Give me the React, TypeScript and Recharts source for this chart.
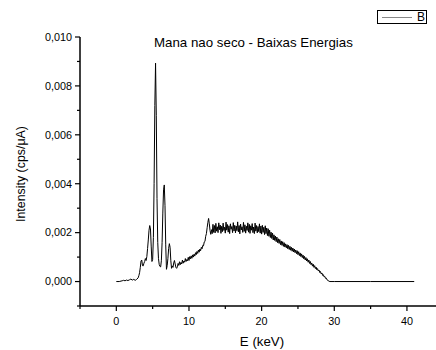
import { LineChart, Line, XAxis, YAxis } from "recharts";

// Spectrum: [energy keV, intensity in 1e-4 cps/uA]
const baseline: [number, number][] = [
  [0.0, 0], [0.4, 0], [0.8, 0.3], [1.0, 0.5], [1.2, 0.3], [1.4, 0.6], [1.6, 0.4],
  [1.8, 0.7], [2.0, 1.0], [2.2, 0.6], [2.4, 0.9], [2.6, 0.5], [2.8, 0.9],
];

const peaks: [number, number][] = [
  [3.0, 1.5], [3.1, 2.4], [3.2, 3.6], [3.3, 5.8], [3.4, 8.4], [3.5, 8.8], [3.6, 6.5],
  [3.7, 6.4], [3.8, 7.5], [3.9, 8.2], [4.0, 9.4], [4.1, 8.6], [4.2, 10.2], [4.3, 13.5],
  [4.4, 17.0], [4.5, 21.0], [4.6, 22.9], [4.7, 21.5], [4.8, 14.5], [4.9, 8.2], [5.0, 9.0],
  [5.1, 18.0], [5.2, 40.0], [5.3, 72.0], [5.4, 89.3], [5.5, 68.0], [5.6, 34.0], [5.7, 16.0],
  [5.8, 9.5], [5.9, 7.0], [6.0, 6.2], [6.1, 6.0], [6.2, 8.5], [6.3, 16.0], [6.4, 28.0],
  [6.5, 37.5], [6.6, 39.5], [6.7, 31.0], [6.8, 15.0], [6.9, 5.0], [7.0, 6.5], [7.1, 9.5],
  [7.2, 13.5], [7.3, 15.5], [7.4, 14.0], [7.5, 8.5], [7.6, 5.4], [7.7, 6.4], [7.8, 5.8],
  [7.9, 7.6], [8.0, 8.6], [8.1, 7.2], [8.2, 5.8], [8.3, 5.4],
];

const rise: [number, number][] = [
  [8.4, 6.0], [8.5, 7.4], [8.6, 6.6], [8.7, 8.1], [8.8, 6.9], [8.9, 7.8], [9.0, 7.2],
  [9.1, 8.8], [9.2, 7.5], [9.3, 8.4], [9.4, 7.9], [9.5, 9.4], [9.6, 8.2], [9.7, 9.0],
  [9.8, 8.5], [9.9, 9.9], [10.0, 8.6], [10.1, 10.2], [10.2, 9.3], [10.3, 10.5], [10.4, 9.5],
  [10.5, 10.9], [10.6, 10.0], [10.7, 11.2], [10.8, 10.4], [10.9, 11.8], [11.0, 11.0],
  [11.1, 12.3], [11.2, 11.5], [11.3, 12.9], [11.4, 12.0], [11.5, 13.3], [11.6, 12.6],
  [11.7, 14.0], [11.8, 13.4], [11.9, 14.8], [12.0, 14.6], [12.1, 16.2], [12.2, 16.4],
  [12.3, 18.5], [12.4, 19.6], [12.5, 22.0], [12.6, 24.2], [12.7, 25.8], [12.8, 23.6],
  [12.9, 20.8], [13.0, 19.3], [13.1, 21.2], [13.2, 19.6],
];

const plateau: [number, number][] = [
  [13.3, 23.4], [13.4, 20.1], [13.5, 22.9], [13.6, 19.9], [13.7, 23.8], [13.8, 20.6],
  [13.9, 22.4], [14.0, 20.0], [14.1, 24.0], [14.2, 21.2], [14.3, 23.1], [14.4, 19.7],
  [14.5, 22.6], [14.6, 20.4], [14.7, 23.9], [14.8, 20.9], [14.9, 22.2], [15.0, 19.8],
  [15.1, 24.3], [15.2, 21.0], [15.3, 23.3], [15.4, 20.2], [15.5, 22.8], [15.6, 19.6],
  [15.7, 23.6], [15.8, 21.4], [15.9, 22.5], [16.0, 20.0], [16.1, 24.1], [16.2, 20.7],
  [16.3, 23.0], [16.4, 19.9], [16.5, 22.7], [16.6, 20.8], [16.7, 24.4], [16.8, 20.3],
  [16.9, 22.9], [17.0, 19.5], [17.1, 23.5], [17.2, 21.1], [17.3, 22.4], [17.4, 20.1],
  [17.5, 24.2], [17.6, 20.5], [17.7, 23.2], [17.8, 19.8], [17.9, 22.6], [18.0, 20.9],
  [18.1, 24.0], [18.2, 20.2], [18.3, 23.4], [18.4, 19.7], [18.5, 22.8], [18.6, 21.0],
  [18.7, 23.7], [18.8, 20.0], [18.9, 22.3], [19.0, 19.6], [19.1, 23.9], [19.2, 20.6],
  [19.3, 22.9], [19.4, 19.9], [19.5, 22.5], [19.6, 20.4], [19.7, 23.6], [19.8, 19.8],
  [19.9, 22.7], [20.0, 19.4], [20.1, 23.0], [20.2, 20.1], [20.3, 22.2], [20.4, 19.2],
  [20.5, 22.8], [20.6, 19.6], [20.7, 21.9], [20.8, 18.8], [20.9, 21.6],
];

const decline: [number, number][] = [
  [21.0, 18.5], [21.1, 21.0], [21.2, 18.0], [21.3, 20.2], [21.4, 17.6], [21.5, 19.8],
  [21.6, 17.0], [21.7, 19.1], [21.8, 16.8], [21.9, 18.6], [22.0, 16.3], [22.1, 18.2],
  [22.2, 15.9], [22.3, 17.5], [22.4, 15.6], [22.5, 17.2], [22.6, 15.1], [22.7, 16.6],
  [22.8, 14.8], [22.9, 16.3], [23.0, 14.4], [23.1, 15.9], [23.2, 14.1], [23.3, 15.4],
  [23.4, 13.8], [23.5, 15.1], [23.6, 13.4], [23.7, 14.8], [23.8, 13.1], [23.9, 14.4],
  [24.0, 12.8], [24.1, 14.0], [24.2, 12.4], [24.3, 13.7], [24.4, 12.1], [24.5, 13.3],
  [24.6, 11.8], [24.7, 12.9], [24.8, 11.4], [24.9, 12.6], [25.0, 11.0], [25.1, 12.2],
  [25.2, 10.6], [25.3, 11.7], [25.4, 10.2], [25.5, 11.3], [25.6, 9.8], [25.7, 10.8],
  [25.8, 9.3], [25.9, 10.3], [26.0, 8.8], [26.1, 9.8], [26.2, 8.4], [26.3, 9.3],
  [26.4, 7.9], [26.5, 8.8], [26.6, 7.4], [26.7, 8.2], [26.8, 6.9], [26.9, 7.6],
  [27.0, 6.3], [27.1, 7.1], [27.2, 5.8], [27.3, 6.5], [27.4, 5.3], [27.5, 5.9],
  [27.6, 4.8], [27.7, 5.3], [27.8, 4.3], [27.9, 4.7], [28.0, 3.7], [28.1, 4.1],
  [28.2, 3.1], [28.3, 3.5], [28.4, 2.5], [28.5, 2.8], [28.6, 1.9], [28.7, 2.1],
  [28.8, 1.3], [28.9, 1.4], [29.0, 0.7], [29.1, 0.6], [29.2, 0.2],
];

const tail: [number, number][] = [
  [29.4, 0], [30, 0], [35, 0], [41, 0],
];

const xTicks = [-5, 0, 5, 10, 15, 20, 25, 30, 35, 40];
const xLabels = [0, 10, 20, 30, 40];
const yTicks = [-0.001, 0, 0.001, 0.002, 0.003, 0.004, 0.005, 0.006, 0.007, 0.008, 0.009, 0.01];
const yLabels = [0, 0.002, 0.004, 0.006, 0.008, 0.01];

const data = [...baseline, ...peaks, ...rise, ...plateau, ...decline, ...tail].map(([e, v]) => ({
  e,
  v: v / 10000,
}));

const font = "'Liberation Sans', Arial, sans-serif";

function YTick(props: any) {
  const { x, y, payload } = props;
  const major = yLabels.includes(payload.value);
  return (
    <g>
      <line x1={x} x2={x - (major ? 5 : 3)} y1={y} y2={y} stroke="#000" strokeWidth={1.2} />
      {major && (
        <text x={x - 8} y={y} dy="0.35em" textAnchor="end" fontSize={10.8} fill="#000" fontFamily={font}>
          {payload.value.toFixed(3).replace(".", ",")}
        </text>
      )}
    </g>
  );
}

function XTick(props: any) {
  const { x, y, payload } = props;
  const major = xLabels.includes(payload.value);
  return (
    <g>
      <line x1={x} x2={x} y1={y} y2={y + (major ? 5 : 3)} stroke="#000" strokeWidth={1.2} />
      {major && (
        <text x={x} y={y + 18.5} textAnchor="middle" fontSize={10.8} fill="#000" fontFamily={font}>
          {payload.value}
        </text>
      )}
    </g>
  );
}

export default function App() {
  return (
    <div style={{ position: "absolute", left: 0, top: 0, width: 436, height: 350, background: "#fff", fontFamily: font }}>
      <LineChart width={436} height={350} data={data} margin={{ top: 37, right: 0, left: 0, bottom: 0 }}>
        <XAxis
          dataKey="e"
          type="number"
          domain={[-5, 44]}
          ticks={xTicks}
          interval={0}
          height={44}
          tickSize={0}
          tickMargin={0}
          tickLine={false}
          tick={<XTick />}
          axisLine={{ stroke: "#000", strokeWidth: 1.5 }}
        />
        <YAxis
          type="number"
          domain={[-0.001, 0.01]}
          ticks={yTicks}
          interval={0}
          width={80}
          tickSize={0}
          tickMargin={0}
          tickLine={false}
          tick={<YTick />}
          axisLine={{ stroke: "#000", strokeWidth: 1.5 }}
        />
        <Line
          type="linear"
          dataKey="v"
          stroke="#000"
          strokeWidth={1}
          dot={false}
          isAnimationActive={false}
        />
      </LineChart>
      <div style={{ position: "absolute", left: 154, top: 35, fontSize: 13.3, color: "#000", whiteSpace: "nowrap" }}>
        Mana nao seco - Baixas Energias
      </div>
      <div
        style={{
          position: "absolute",
          left: 21,
          top: 174,
          fontSize: 12.4,
          whiteSpace: "nowrap",
          transform: "translate(-50%, -50%) rotate(-90deg)",
        }}
      >
        Intensity (cps/μA)
      </div>
      <div style={{ position: "absolute", left: 262, top: 341, fontSize: 13.3, whiteSpace: "nowrap", transform: "translate(-50%, -50%)" }}>
        E (keV)
      </div>
      <div
        style={{
          position: "absolute",
          left: 377,
          top: 10,
          width: 48,
          height: 12,
          border: "1px solid #000",
          boxSizing: "content-box",
        }}
      >
        <div style={{ position: "absolute", left: 4, top: 6, width: 30, height: 1, background: "#888" }} />
        <div style={{ position: "absolute", left: 39, top: -1, fontSize: 12, lineHeight: "14px" }}>B</div>
      </div>
    </div>
  );
}
